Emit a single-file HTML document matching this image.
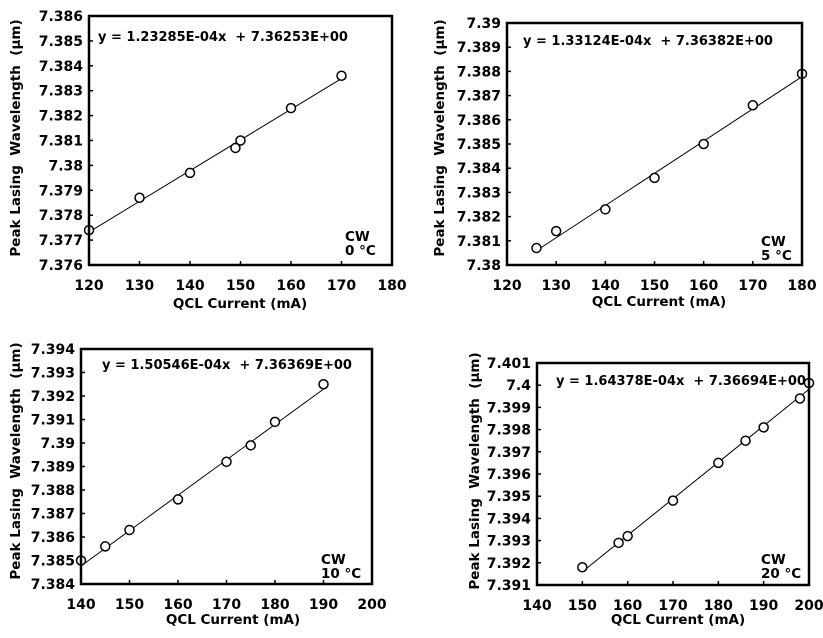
<!DOCTYPE html>
<html><head><meta charset="utf-8"><style>
body{margin:0;background:#fff}
svg text{font-family:"DejaVu Sans","Liberation Sans",sans-serif;font-weight:bold;fill:#000}
</style></head><body>
<svg id="s" width="823" height="633" xmlns="http://www.w3.org/2000/svg">
<rect width="823" height="633" fill="#fff"/>
</svg>
<script>
const charts=[
{L:89,R:392,T:16,B:265,x0:120,x1:180,xs:10,y0:7.376,y1:7.386,dec:[7.376,7.377,7.378,7.379,7.38,7.381,7.382,7.383,7.384,7.385,7.386],
 m:1.23285e-4,c:7.36253,fx:[120,170],pts:[[120,7.3774],[130,7.3787],[140,7.3797],[149,7.3807],[150,7.3810],[160,7.3823],[170,7.3836]],
 eq:"y = 1.23285E-04x  + 7.36253E+00",ex:98,ey:41,cw:"0 °C",cx:345,cy:241,ytx:15,yty:138,xtx:240,xty:308},
{L:507,R:802,T:23,B:265,x0:120,x1:180,xs:10,y0:7.38,y1:7.39,dec:[7.38,7.381,7.382,7.383,7.384,7.385,7.386,7.387,7.388,7.389,7.39],
 m:1.33124e-4,c:7.36382,fx:[126,180],pts:[[126,7.3807],[130,7.3814],[140,7.3823],[150,7.3836],[160,7.3850],[170,7.3866],[180,7.3879]],
 eq:"y = 1.33124E-04x  + 7.36382E+00",ex:523,ey:45,cw:"5 °C",cx:761,cy:246,ytx:439,yty:138,xtx:659,xty:306},
{L:81,R:372,T:349,B:584,x0:140,x1:200,xs:10,y0:7.384,y1:7.394,dec:[7.384,7.385,7.386,7.387,7.388,7.389,7.39,7.391,7.392,7.393,7.394],
 m:1.50546e-4,c:7.36369,fx:[140,190],pts:[[140,7.3850],[145,7.3856],[150,7.3863],[160,7.3876],[170,7.3892],[175,7.3899],[180,7.3909],[190,7.3925]],
 eq:"y = 1.50546E-04x  + 7.36369E+00",ex:102,ey:369,cw:"10 °C",cx:321,cy:564,ytx:15,yty:461,xtx:233,xty:624},
{L:537,R:809,T:363,B:585,x0:140,x1:200,xs:10,y0:7.391,y1:7.401,dec:[7.391,7.392,7.393,7.394,7.395,7.396,7.397,7.398,7.399,7.4,7.401],
 m:1.64378e-4,c:7.36694,fx:[150,200],pts:[[150,7.3918],[158,7.3929],[160,7.3932],[170,7.3948],[180,7.3965],[186,7.3975],[190,7.3981],[198,7.3994],[200,7.4001]],
 eq:"y = 1.64378E-04x  + 7.36694E+00",ex:556,ey:385,cw:"20 °C",cx:761,cy:564,ytx:474,yty:471,xtx:678,xty:624}
];
let h="";
for(const c of charts){
 const X=v=>c.L+(v-c.x0)/(c.x1-c.x0)*(c.R-c.L);
 const Y=v=>c.B-(v-c.y0)/(c.y1-c.y0)*(c.B-c.T);
 for(const d of c.dec){const y=Y(d);
  h+=`<line x1="${c.L}" x2="${c.L+4}" y1="${y}" y2="${y}" stroke="#000" stroke-width="1.5"/>`;
  h+=`<text x="${c.L-6}" y="${y+5}" font-size="14" text-anchor="end">${d}</text>`;}
 for(let v=c.x0;v<=c.x1;v+=c.xs){const x=X(v);
  h+=`<line x1="${x}" x2="${x}" y1="${c.B}" y2="${c.B-4}" stroke="#000" stroke-width="1.5"/>`;
  h+=`<text x="${x}" y="${c.B+25}" font-size="14" text-anchor="middle">${v}</text>`;}
 h+=`<line x1="${X(c.fx[0])}" y1="${Y(c.m*c.fx[0]+c.c)}" x2="${X(c.fx[1])}" y2="${Y(c.m*c.fx[1]+c.c)}" stroke="#000" stroke-width="1"/>`;
 for(const p of c.pts) h+=`<circle cx="${X(p[0])}" cy="${Y(p[1])}" r="4.5" fill="#fff" stroke="#000" stroke-width="1.5"/>`;
 h+=`<rect x="${c.L}" y="${c.T}" width="${c.R-c.L}" height="${c.B-c.T}" fill="none" stroke="#000" stroke-width="2.5"/>`;
 h+=`<text x="${c.ex}" y="${c.ey}" font-size="13" xml:space="preserve">${c.eq}</text>`;
 h+=`<text x="${c.cx}" y="${c.cy}" font-size="13.5">CW</text><text x="${c.cx}" y="${c.cy+14}" font-size="13.5">${c.cw}</text>`;
 h+=`<text x="${c.xtx}" y="${c.xty}" font-size="13.5" text-anchor="middle">QCL Current (mA)</text>`;
 h+=`<text transform="translate(${c.ytx+5},${c.yty}) rotate(-90)" font-size="13.5" text-anchor="middle" xml:space="preserve">Peak Lasing  Wavelength  (μm)</text>`;
}
document.getElementById("s").insertAdjacentHTML("beforeend",h);
</script>
</body></html>
